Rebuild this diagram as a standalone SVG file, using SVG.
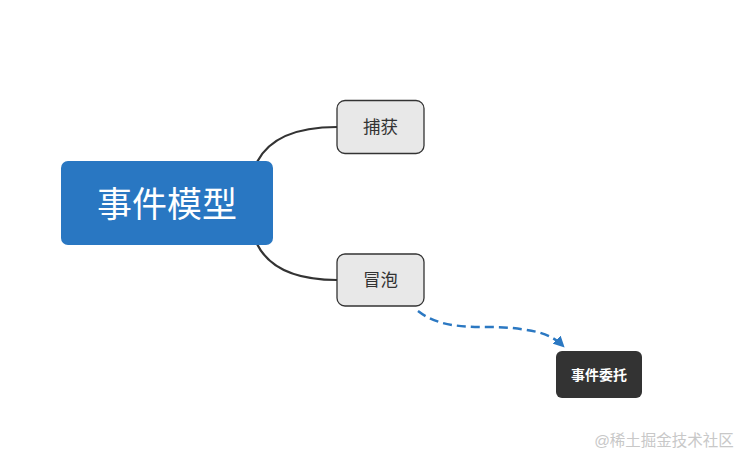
<svg xmlns="http://www.w3.org/2000/svg" width="747" height="463" viewBox="0 0 747 463">
<style>
.t{font-family:"Liberation Sans","Noto Sans CJK SC",sans-serif;text-anchor:middle;dominant-baseline:central}
.sub{fill:#e8e8e8;stroke:#333;stroke-width:1.3}
.link{fill:none;stroke:#333;stroke-width:2.2}
</style>
<defs>
<marker id="ah" viewBox="0 0 10 10" refX="8" refY="5" markerWidth="4.5" markerHeight="4.5" orient="auto" markerUnits="strokeWidth">
<path d="M0,0 L10,5 L0,10 z" fill="#2B78C2"/>
</marker>
</defs>
<rect width="747" height="463" fill="#fff"/>
<g id="connectors">
<path class="link" d="M257,162 Q275,127 337,127"/>
<path class="link" d="M257,244 Q275,280 337,280"/>
<path d="M418,311 C445,332 480,325 512,328 C540,331 552,335 563,346" fill="none" stroke="#2B78C2" stroke-width="2.5" stroke-dasharray="9,5" marker-end="url(#ah)"/>
</g>
<g id="main">
<rect x="61" y="161" width="212" height="84" rx="7" fill="#2977C2"/>
<text class="t" x="167" y="204" font-size="35" fill="#fff">事件模型</text>
</g>
<g id="capture">
<rect class="sub" x="337" y="100.5" width="87" height="53" rx="8"/>
<text class="t" x="380.5" y="127" font-size="17.5" fill="#333">捕获</text>
</g>
<g id="bubble">
<rect class="sub" x="337" y="254" width="87" height="52" rx="8"/>
<text class="t" x="380.5" y="280" font-size="17.5" fill="#333">冒泡</text>
</g>
<g id="delegate">
<rect x="556" y="351" width="86" height="47" rx="6" fill="#333"/>
<text class="t" x="599" y="375" font-size="14" font-weight="bold" fill="#fff">事件委托</text>
</g>
<text class="t" x="664" y="440" font-size="15.5" fill="#c8c8c8">@稀土掘金技术社区</text>
</svg>
